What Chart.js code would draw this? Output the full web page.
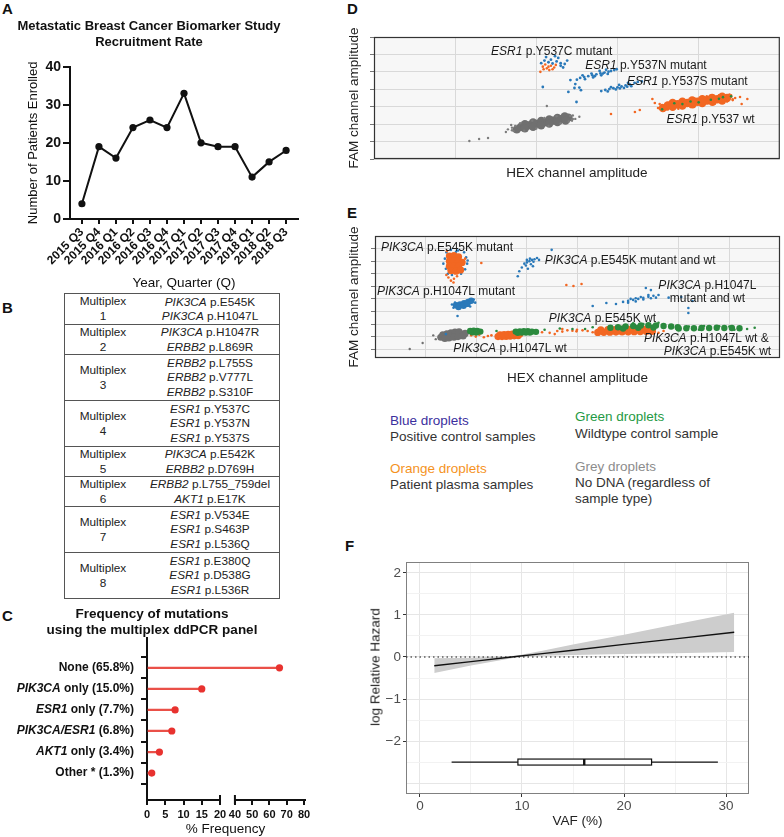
<!DOCTYPE html>
<html lang="en">
<head>
<meta charset="UTF-8" />
<title>Metastatic breast cancer biomarker study - ddPCR panel</title>
<script src="https://cdn.jsdelivr.net/npm/chart.js"></script>
<style>
  body { margin: 0; width: 784px; height: 837px; position: relative; overflow: hidden; background: #fff;
         font-family: 'Liberation Sans', Arial, sans-serif; color: #222; }
  canvas, .abs { position: absolute; }
  .letter { font-weight: bold; font-size: 15px; line-height: 15px; color: #111; }
  #tableB { left: 64px; top: 293px; width: 214px; border: 1px solid #555; font-size: 11.8px; color: #222; }
  .mrow { display: flex; align-items: center; border-top: 1px solid #555; box-sizing: border-box; }
  .mrow:first-child { border-top: none; }
  .mname { width: 76px; text-align: center; line-height: 15px; }
  .massays { flex: 1; text-align: center; line-height: 14.5px; white-space: nowrap; }
  .leg { font-size: 13.5px; line-height: 16px; white-space: nowrap; color: #333; }
  .rot { transform: translate(-50%, -50%) rotate(-90deg); white-space: nowrap; font-size: 13.5px; color: #222; }
</style>
</head>
<body>
  <div class="abs letter" style="left:2px;top:1px">A</div>
  <div class="abs letter" style="left:2px;top:300px">B</div>
  <div class="abs letter" style="left:2px;top:608px">C</div>
  <div class="abs letter" style="left:347px;top:1px">D</div>
  <div class="abs letter" style="left:347px;top:205px">E</div>
  <div class="abs letter" style="left:345px;top:538px">F</div>

  <canvas id="chartA" width="342" height="292" style="left:0;top:0"></canvas>
  <div id="tableB" class="abs"></div>
  <canvas id="chartC" width="346" height="237" style="left:0;top:600px"></canvas>
  <canvas id="chartD" width="444" height="190" style="left:340px;top:0"></canvas>
  <canvas id="chartE" width="444" height="200" style="left:340px;top:195px"></canvas>

  <div class="abs leg" style="left:390px;top:413px;color:#3b2f9e">Blue droplets</div>
  <div class="abs leg" style="left:390px;top:429px">Positive control samples</div>
  <div class="abs leg" style="left:390px;top:461px;color:#f5931e">Orange droplets</div>
  <div class="abs leg" style="left:390px;top:477px">Patient plasma samples</div>
  <div class="abs leg" style="left:575px;top:409px;color:#1f9a44">Green droplets</div>
  <div class="abs leg" style="left:575px;top:426px">Wildtype control sample</div>
  <div class="abs leg" style="left:575px;top:459px;color:#8c8c8c">Grey droplets</div>
  <div class="abs leg" style="left:575px;top:475px">No DNA (regardless of</div>
  <div class="abs leg" style="left:575px;top:491px">sample type)</div>

  <canvas id="chartF" width="444" height="307" style="left:340px;top:530px"></canvas>
  <div class="abs rot" style="left:375px;top:667px">log Relative Hazard</div>

<script>
// A: recruitment per quarter
const quarters = ['2015 Q3', '2015 Q4', '2016 Q1', '2016 Q2', '2016 Q3', '2016 Q4', '2017 Q1',
                  '2017 Q2', '2017 Q3', '2017 Q4', '2018 Q1', '2018 Q2', '2018 Q3'];
const enrolled = [4, 19, 16, 24, 26, 24, 33, 20, 19, 19, 11, 15, 18];

// B: assays in each multiplex
const multiplexAssays = [
  [['PIK3CA', 'p.E545K'], ['PIK3CA', 'p.H1047L']],
  [['PIK3CA', 'p.H1047R'], ['ERBB2', 'p.L869R']],
  [['ERBB2', 'p.L755S'], ['ERBB2', 'p.V777L'], ['ERBB2', 'p.S310F']],
  [['ESR1', 'p.Y537C'], ['ESR1', 'p.Y537N'], ['ESR1', 'p.Y537S']],
  [['PIK3CA', 'p.E542K'], ['ERBB2', 'p.D769H']],
  [['ERBB2', 'p.L755_759del'], ['AKT1', 'p.E17K']],
  [['ESR1', 'p.V534E'], ['ESR1', 'p.S463P'], ['ESR1', 'p.L536Q']],
  [['ESR1', 'p.E380Q'], ['ESR1', 'p.D538G'], ['ESR1', 'p.L536R']]
];

// C: mutation frequency
const mutCategories = ['None', 'PIK3CA only', 'ESR1 only', 'PIK3CA/ESR1', 'AKT1 only', 'Other *'];
const mutGenes = ['', 'PIK3CA', 'ESR1', 'PIK3CA/ESR1', 'AKT1', ''];
const mutFreq = [65.8, 15.0, 7.7, 6.8, 3.4, 1.3];
const freqTicks = [0, 5, 10, 15, 20, 40, 50, 60, 70, 80];
const axisBreak = [20, 40];

// D: ESR1 multiplex droplets (HEX, FAM)
const dGreyCore = [[1810,1840],[1905,1930],[2005,2015],[2100,2105],[2200,2200],[2300,2285],[2395,2375],
  [1857,1885],[1955,1972],[2052,2060],[2150,2152],[2250,2242],[2347,2330],
  [1860,2000],[1960,2090],[2060,2180],[2160,2270],[2260,2360],[2350,2440],
  [1760,1700],[1860,1760],[1960,1850],[2060,1940],[2160,2030],[2260,2120],[2360,2210]];
const dGreySpray = [[1175,1030],[1295,1150],[1405,1205],[1625,1550],[2130,3040],[1700,1800],[2480,2300],
  [2530,2420],[1720,1600],[2450,2500],[1690,1950],[2440,2200],
  [1700,1650],[1740,1900],[1800,2050],[1950,2200],[2100,2350],[2250,2450],[2420,2480],[2450,2300],
  [2400,2150],[2300,2050],[2150,1900],[2000,1750],[1850,1620],[1650,1700]];
const dOrangeCore = [[3620,3070],[3740,3140],[3860,3215],[3985,3285],[4105,3360],[4230,3430],[4350,3500],
  [3680,3105],[3800,3178],[3920,3250],[4045,3322],[4165,3395],[4290,3465],
  [3680,3220],[3800,3290],[3920,3365],[4045,3435],[4165,3510],[4290,3580],
  [3560,2920],[3680,2990],[3800,3065],[3925,3135],[4045,3210],[4170,3280],[4290,3350]];
const dOrangeSpray = [[3215,2700],[3275,2810],[2920,2580],[3460,3210],[4450,3500],[4510,3560],[3500,2930],
  [4530,3160],[4600,3440],[3430,3440],[2080,5300],[2130,5200],[2180,5350],[2220,5250],[2110,5420],
  [2160,5100],[2200,5150],[2240,5400],[2090,5150],[2150,5300],[2050,5000],[4400,3650],[3550,3050],
  [3520,3150],[4420,3380],[3600,2850],[4380,3700],
  [3520,2900],[3550,3100],[3650,3250],[3800,3380],[3950,3470],[4100,3600],[4250,3650],[4400,3560],
  [4420,3420],[4350,3300],[4200,3180],[4050,3080],[3900,2980],[3750,2880],[3620,2840]];
const dBlueY537C = [[2100,5650],[2180,5700],[2250,5600],[2300,5500],[2350,5450],[2150,5550],[2270,5800],
  [2060,5500],[2330,5250],[2380,5650],[2200,5480],[2300,5350],[2230,5900],[2120,5850],
  [2080,4130],[2395,3850],[2470,4075],[2495,3270],[2420,4530],[2480,4300],[2530,4100],[2550,3950]];
const dBlueY537N = [[2540,4650],[2590,4700],[2640,4750],[2690,4800],[2740,4860],[2790,4910],[2840,4960],
  [2890,5010],[2920,5050],[2600,4580],[2700,4680],[2800,4800],[2880,4880],[2570,4800],[2680,4900],
  [2780,5050],[2860,5120],[2960,5100],[2500,4550],[2990,5150],[2720,4750],[2820,4900]];
const dBlueY537S = [[2850,3960],[2900,4010],[2950,4060],[3000,4110],[3050,4160],[3100,4220],[3150,4280],
  [3210,4360],[2880,3880],[2980,3990],[3080,4080],[3170,4180],[2920,4120],[3020,4250],[3130,4370],
  [3250,4420],[2800,3900],[3300,4450],[3030,4050],[3120,4150]];
const dGreen = [[3900,3300],[4000,3250],[4150,3400],[4250,3450],[3700,3200],[4300,3550],[3550,2850],
  [4400,3600],[3800,3150]];

// E: PIK3CA multiplex droplets (HEX, FAM)
const eGreyCore = [[1300,1950],[1380,2000],[1460,2050],[1540,2100],[1620,2150],[1700,2200],[1780,2250],
  [1340,2150],[1420,2230],[1500,2300],[1580,2350],[1660,2380],[1380,1850],[1460,1900],[1560,1950],
  [1640,2000],[1740,2050]];
const eGreySpray = [[941,1490],[686,1016],[1200,1800],[1850,2300],[1150,2100]];
const eOrangeCore = [[1470,8400],[1560,8450],[1650,8350],[1470,8000],[1560,8000],[1650,8000],[1720,7900],
  [1470,7600],[1560,7600],[1650,7600],[1500,7250],[1600,7200],[1690,7300],
  [2430,2000],[2510,2000],[2590,2020],[2670,2040],[2750,2060],[2830,2080],[2470,2150],[2550,2170],
  [2630,2190],[2710,2210],[2790,2230],[2860,2200],
  [4400,2330],[4520,2340],[4640,2350],[4760,2360],[4880,2370],[5000,2380],[5120,2390],[5240,2400],
  [5360,2410],[5480,2420],[4460,2540],[4600,2550],[4740,2560],[4880,2570],[5020,2580],[5160,2590],
  [5300,2600],[5420,2580]];
const eOrangeSpray = [[1450,6700],[1500,6450],[1560,6600],[1620,6800],[1410,6900],[1550,6300],[2100,7850],
  [1420,8800],[1780,8200],[1900,2100],[1990,2000],[2060,2150],[2150,1950],[2230,2050],[2300,2100],
  [1950,2200],[3600,2450],[3700,2400],[3800,2500],[3900,2470],[3300,2350],[3450,2300],[3980,2420],
  [3550,2200],[3780,6100],[3920,6020],[4080,6180],[3990,2550],[4100,2500],[4200,2450],[4300,2350],
  [3700,2600],[5600,2300],[5700,2450]];
const eBlueCore = [[1600,4500],[1680,4550],[1760,4650],[1840,4750],[1900,4850],[1650,4350],[1750,4450],
  [1820,4600]];
const eBlueSpray = [[1410,8700],[1500,8900],[1640,8850],[1760,8700],[1800,8300],[1820,7800],[1780,7350],
  [1380,8200],[1400,7400],[1700,7000],[1520,6900],[1440,7000],[1830,8050],[1600,8750],[1350,7800],
  [2950,7800],[3000,7900],[3050,8000],[3100,8100],[3150,8150],[2980,7650],[3080,7750],[3130,7950],
  [3200,8250],[2900,7500],[3020,7400],[3060,8200],[2850,7200],[2820,6800],[3240,8100],[3490,8900],
  [3000,8100],[3120,7600],[1550,4300],[1950,4950],[1880,4400],[1580,4700],[1630,3640],[1980,4700],
  [1520,4550],[4900,4760],[5000,4840],[5100,4920],[5200,5000],[5300,5080],[5400,5160],[5500,5240],
  [5600,5310],[5000,4700],[5150,4800],[5300,4950],[5450,5050],[5050,5000],[5250,5150],[5400,5300],
  [5550,5100],[5150,5050],[4570,4670],[4760,4590],[5350,5870],[5450,5700],[6190,3880],[6190,4280],
  [6270,4830],[5800,5100],[6050,5150],[4300,4430],[1400,2200]];
const eGreenCore = [[1880,2450],[1950,2480],[2020,2450],[2080,2400],[1920,2350],[2000,2330],
  [2780,2400],[2860,2420],[2940,2440],[3020,2430],[3100,2400],[3180,2380],[2820,2300],[2900,2320],
  [2980,2330],[3060,2320],[4650,2700],[4800,2750],[4950,2800],[5100,2850],[5250,2880],[5400,2900],
  [5550,2880],[5700,2850],[5850,2800],[5980,2750],[4900,2650],[5200,2700],[5500,2720],
  [6000,2650],[6150,2660],[6300,2670],[6450,2680],[6600,2690],[6750,2700],[6900,2690],[7050,2680],
  [7200,2670]];
const eGreenSpray = [[2100,2500],[5300,3000],[5100,3050],[5600,3100],[6200,2800],[6500,2850],[6800,2820],
  [7100,2550],[7350,2600],[7500,2700],[6600,2550],[3350,2550],[3650,2650],[3900,2600],[4150,2600],
  [4300,2750],[2400,2450],[6400,2550],[7000,2800]];

// F: log relative hazard vs VAF
const vaf = [1.4, 5, 9.4, 12, 15, 20, 25, 30.8];
const logHazard = [-0.21, -0.11, 0.01, 0.08, 0.16, 0.30, 0.43, 0.59];
const hazardUpper = [-0.03, -0.02, 0.03, 0.15, 0.30, 0.53, 0.77, 1.05];
const hazardLower = [-0.38, -0.20, -0.01, 0.03, 0.05, 0.07, 0.09, 0.12];
const vafBox = [3.1, 9.6, 16.1, 22.7, 29.2];   // min, q1, median, q3, max
const boxRow = -2.5;

// cluster annotations (data coordinates)
const dNotes = [
  { gene: 'ESR1', text: ' p.Y537C mutant', x: 1442, y: 6142 },
  { gene: 'ESR1', text: ' p.Y537N mutant', x: 2603, y: 5338 },
  { gene: 'ESR1', text: ' p.Y537S mutant', x: 3116, y: 4420 },
  { gene: 'ESR1', text: ' p.Y537 wt', x: 3605, y: 2239 }
];
const eNotes = [
  { gene: 'PIK3CA', text: ' p.E545K mutant', x: 118, y: 9045 },
  { gene: 'PIK3CA', text: ' p.E545K mutant and wt', x: 3352, y: 8012 },
  { gene: 'PIK3CA', text: ' p.H1047L', x: 6566, y: 6024, center: true },
  { gene: '', text: 'mutant and wt', x: 6566, y: 4991, center: true },
  { gene: 'PIK3CA', text: ' p.H1047L mutant', x: 39, y: 5547 },
  { gene: 'PIK3CA', text: ' p.E545K wt', x: 3430, y: 3400 },
  { gene: 'PIK3CA', text: ' p.H1047L wt &', x: 5312, y: 1811 },
  { gene: 'PIK3CA', text: ' p.E545K wt', x: 5704, y: 777 },
  { gene: 'PIK3CA', text: ' p.H1047L wt', x: 1548, y: 1016 }
];

const FONT = "'Liberation Sans', Arial, sans-serif";
const ORANGE = '#f26722', BLUE = '#2a79b9', GREEN = '#2b8a3e', GREY = '#707070';

Chart.defaults.animation = false;
Chart.defaults.font.family = FONT;
Chart.defaults.color = '#222';
Chart.defaults.plugins.legend.display = false;
Chart.defaults.plugins.tooltip.enabled = false;

const toXY = pts => pts.map(p => ({ x: p[0], y: p[1] }));
const fixedTicks = vals => s => { s.ticks = vals.map(v => ({ value: v })); };

// ---- table B
const tableB = document.getElementById('tableB');
multiplexAssays.forEach((assays, i) => {
  const row = document.createElement('div');
  row.className = 'mrow';
  row.style.height = (assays.length === 2 ? 30 : 46) + 'px';
  row.innerHTML = `<div class="mname">Multiplex<br>${i + 1}</div><div class="massays">` +
    assays.map(a => `<i>${a[0]}</i> ${a[1]}`).join('<br>') + '</div>';
  tableB.appendChild(row);
});

// ---- shared plugins
const panelFrame = {
  id: 'panelFrame',
  beforeDraw(chart, args, o) {
    if (!o.fill) return;
    const { ctx, chartArea: a } = chart;
    ctx.save();
    ctx.fillStyle = o.fill;
    ctx.fillRect(a.left, a.top, a.width, a.height);
    ctx.restore();
  },
  afterDatasetsDraw(chart, args, o) {
    if (!o.stroke) return;
    const { ctx, chartArea: a } = chart;
    ctx.save();
    ctx.strokeStyle = o.stroke;
    ctx.lineWidth = o.width || 1;
    ctx.strokeRect(a.left + 0.5, a.top + 0.5, a.width - 1, a.height - 1);
    ctx.restore();
  }
};

const geneNotes = {
  id: 'geneNotes',
  afterDatasetsDraw(chart, args, o) {
    const { ctx, scales: { x, y } } = chart;
    const italic = `italic 12px ${FONT}`, roman = `12px ${FONT}`;
    ctx.save();
    ctx.fillStyle = '#1a1a1a';
    ctx.textBaseline = 'middle';
    ctx.textAlign = 'left';
    (o.items || []).forEach(n => {
      ctx.font = italic;
      const wg = n.gene ? ctx.measureText(n.gene).width : 0;
      ctx.font = roman;
      const wt = ctx.measureText(n.text).width;
      let px = x.getPixelForValue(n.x);
      const py = y.getPixelForValue(n.y);
      if (n.center) px -= (wg + wt) / 2;
      if (n.gene) { ctx.font = italic; ctx.fillText(n.gene, px, py); }
      ctx.font = roman;
      ctx.fillText(n.text, px + wg, py);
    });
    ctx.restore();
  }
};

// ---- A
new Chart(document.getElementById('chartA'), {
  type: 'line',
  data: {
    datasets: [{
      data: enrolled.map((v, i) => ({ x: i, y: v })),
      borderColor: '#111', backgroundColor: '#111', borderWidth: 2,
      pointRadius: 3.6, pointBorderWidth: 0, tension: 0
    }]
  },
  options: {
    responsive: false,
    layout: { padding: { right: 44 } },
    plugins: {
      title: {
        display: true, text: ['Metastatic Breast Cancer Biomarker Study', 'Recruitment Rate'],
        font: { size: 13, weight: 'bold' }, color: '#111', padding: { top: 19, bottom: 16.5 }
      }
    },
    scales: {
      x: {
        type: 'linear', min: -0.7, max: 12.7,
        afterBuildTicks: fixedTicks(quarters.map((q, i) => i)),
        afterFit: s => { s.height = 73; },
        ticks: { callback: v => quarters[v], autoSkip: false, minRotation: 45, maxRotation: 45,
                 font: { size: 12, weight: 'bold' }, color: '#111', padding: 1 },
        grid: { drawOnChartArea: false, color: '#111', lineWidth: 2, tickLength: 5 },
        border: { color: '#111', width: 2 },
        title: { display: true, text: 'Year, Quarter (Q)', font: { size: 13.5 }, color: '#111',
                 padding: { top: 0, bottom: 1 } }
      },
      y: {
        min: 0, max: 40,
        afterFit: s => { s.width = 70; },
        ticks: { stepSize: 10, font: { size: 14, weight: 'bold' }, color: '#111', padding: 2 },
        grid: { drawOnChartArea: false, color: '#111', lineWidth: 2, tickLength: 7 },
        border: { color: '#111', width: 2 },
        title: { display: true, text: 'Number of Patients Enrolled', font: { size: 13 }, color: '#111',
                 padding: { top: 26, bottom: 0 } }
      }
    }
  }
});

// ---- C: lollipop on a broken x axis
class BrokenLinearScale extends Chart.LinearScale {
  getPixelForValue(v) {
    const [lo, hi] = axisBreak;
    const gapStart = 0.465, gapEnd = 0.56;
    let f;
    if (v <= lo) f = (v - this.min) / (lo - this.min) * gapStart;
    else if (v < hi) f = gapStart + (v - lo) / (hi - lo) * (gapEnd - gapStart);
    else f = gapEnd + (v - hi) / (this.max - hi) * (1 - gapEnd);
    return this.left + f * this.width;
  }
}
BrokenLinearScale.id = 'brokenLinear';
BrokenLinearScale.defaults = Chart.LinearScale.defaults;
Chart.register(BrokenLinearScale);

const lollipopAxis = {
  id: 'lollipopAxis',
  afterDraw(chart) {
    const { ctx, scales: { x, y }, chartArea: a } = chart;
    ctx.save();
    ctx.strokeStyle = '#111';
    ctx.lineWidth = 2;
    ctx.beginPath();
    ctx.moveTo(x.getPixelForValue(0) - 1, a.bottom);
    ctx.lineTo(x.getPixelForValue(axisBreak[0]), a.bottom);
    ctx.moveTo(x.getPixelForValue(axisBreak[1]), a.bottom);
    ctx.lineTo(x.getPixelForValue(80) + 2, a.bottom);
    axisBreak.forEach(v => {
      const px = x.getPixelForValue(v);
      ctx.moveTo(px, a.bottom - 5);
      ctx.lineTo(px, a.bottom + 4);
    });
    ctx.stroke();

    const bold = `bold 12px ${FONT}`, boldItalic = `italic bold 12px ${FONT}`;
    const right = a.left - 13;
    ctx.fillStyle = '#111';
    ctx.textBaseline = 'middle';
    ctx.textAlign = 'left';
    mutCategories.forEach((c, i) => {
      const full = `${c} (${mutFreq[i].toFixed(1)}%)`;
      const gene = mutGenes[i];
      const rest = full.slice(gene.length);
      ctx.font = boldItalic;
      const wg = gene ? ctx.measureText(gene).width : 0;
      ctx.font = bold;
      const wr = ctx.measureText(rest).width;
      const py = y.getPixelForValue(i);
      if (gene) { ctx.font = boldItalic; ctx.fillText(gene, right - wr - wg, py); }
      ctx.font = bold;
      ctx.fillText(rest, right - wr, py);
    });
    ctx.restore();
  }
};

const mutPoints = mutFreq.map((v, i) => ({ x: v, y: i }));
new Chart(document.getElementById('chartC'), {
  type: 'bar',
  data: {
    datasets: [
      { type: 'scatter', data: mutPoints, pointRadius: 3.6, backgroundColor: '#e8322f', borderWidth: 0 },
      { data: mutPoints, backgroundColor: '#ea5048', barThickness: 1.6 }
    ]
  },
  options: {
    indexAxis: 'y',
    responsive: false,
    layout: { padding: { right: 42 } },
    plugins: {
      title: {
        display: true, text: ['Frequency of mutations', 'using the multiplex ddPCR panel'],
        font: { size: 13.5, weight: 'bold' }, color: '#111', padding: { top: 6, bottom: 0 }
      }
    },
    scales: {
      x: {
        type: 'brokenLinear', min: 0, max: 80,
        afterBuildTicks: fixedTicks(freqTicks),
        afterFit: s => { s.height = 37; },
        ticks: { callback: v => String(v), autoSkip: false, maxRotation: 0,
                 font: { size: 11, weight: 'bold' }, color: '#111', padding: 3 },
        grid: { drawOnChartArea: false, color: '#111', lineWidth: 2, tickLength: 5 },
        border: { display: false },
        title: { display: true, text: '% Frequency', font: { size: 13.5 }, color: '#111',
                 padding: { top: 0, bottom: 0 } }
      },
      y: {
        type: 'linear', reverse: true, min: -0.76, max: 5.64,
        afterBuildTicks: fixedTicks(mutCategories.map((c, i) => i)),
        afterFit: s => { s.width = 147; },
        ticks: { display: false },
        grid: { drawOnChartArea: false, color: '#111', lineWidth: 2, tickLength: 6 },
        border: { color: '#111', width: 2 }
      }
    }
  },
  plugins: [lollipopAxis]
});

// ---- D and E: droplet plots
function dropletChart(id, sets, opt) {
  new Chart(document.getElementById(id), {
    type: 'scatter',
    data: {
      datasets: sets.map(s => ({
        data: toXY(s.pts), backgroundColor: s.color, pointRadius: s.r, pointBorderWidth: 0
      }))
    },
    options: {
      responsive: false,
      layout: { padding: { top: opt.top, right: 1 } },
      plugins: { panelFrame: { fill: '#f7f7f7', stroke: '#333', width: 1.2 }, geneNotes: { items: opt.notes } },
      scales: {
        x: {
          min: opt.x[0], max: opt.x[1],
          afterBuildTicks: fixedTicks(opt.gridX),
          afterFit: s => { s.height = opt.xh; },
          ticks: { display: false },
          grid: { color: '#d9d9d9', drawTicks: false },
          border: { display: false },
          title: { display: true, text: 'HEX channel amplitude', font: { size: 13.5 }, color: '#222',
                   padding: { top: 0, bottom: 8.6 } }
        },
        y: {
          min: opt.y[0], max: opt.y[1],
          afterBuildTicks: fixedTicks(opt.gridY),
          afterFit: s => { s.width = opt.yw; },
          ticks: { display: false },
          grid: { color: '#d9d9d9', tickColor: '#777', tickLength: 4 },
          border: { display: false },
          title: { display: true, text: 'FAM channel amplitude', font: { size: 13.5 }, color: '#222',
                   padding: { top: 6.6, bottom: 0 } }
        }
      }
    },
    plugins: [panelFrame, geneNotes]
  });
}

dropletChart('chartD', [
  { pts: dGreen, color: GREEN, r: 1.3 },
  { pts: dOrangeSpray, color: ORANGE, r: 1.3 },
  { pts: dOrangeCore, color: ORANGE, r: 4.2 },
  { pts: dBlueY537C, color: BLUE, r: 1.4 },
  { pts: dBlueY537N, color: BLUE, r: 1.4 },
  { pts: dBlueY537S, color: BLUE, r: 1.4 },
  { pts: dGreySpray, color: '#7c7c7c', r: 1.2 },
  { pts: dGreyCore, color: GREY, r: 4.2 }
], { top: 37, yw: 34, xh: 31, x: [0, 5000], y: [0, 7000],
     gridX: [1000, 2000, 3000, 4000], gridY: [0, 1000, 2000, 3000, 4000, 5000, 6000, 7000], notes: dNotes });

dropletChart('chartE', [
  { pts: eGreenSpray, color: GREEN, r: 1.3 },
  { pts: eGreenCore, color: GREEN, r: 3.2 },
  { pts: eOrangeSpray, color: ORANGE, r: 1.3 },
  { pts: eOrangeCore, color: ORANGE, r: 3.6 },
  { pts: eBlueSpray, color: BLUE, r: 1.3 },
  { pts: eBlueCore, color: BLUE, r: 3.2 },
  { pts: eGreySpray, color: GREY, r: 1.2 },
  { pts: eGreyCore, color: GREY, r: 3.6 }
], { top: 41, yw: 35, xh: 37, x: [0, 8000], y: [300, 10000],
     gridX: [1000, 2000, 3000, 4000, 5000, 6000, 7000],
     gridY: [1000, 2000, 3000, 4000, 5000, 6000, 7000, 8000, 9000], notes: eNotes });

// ---- F: spline hazard with box plot of VAF
const coxExtras = {
  id: 'coxExtras',
  afterDatasetsDraw(chart) {
    const { ctx, scales: { x, y }, chartArea: a } = chart;
    ctx.save();
    const y0 = y.getPixelForValue(0);
    ctx.strokeStyle = '#111';
    ctx.lineWidth = 1.2;
    ctx.setLineDash([1.5, 3]);
    ctx.beginPath();
    ctx.moveTo(a.left, y0);
    ctx.lineTo(a.right, y0);
    ctx.stroke();
    ctx.setLineDash([]);

    const [mn, q1, md, q3, mx] = vafBox.map(v => x.getPixelForValue(v));
    const yc = y.getPixelForValue(boxRow), h = 6;
    ctx.lineWidth = 1.2;
    ctx.beginPath();
    ctx.moveTo(mn, yc); ctx.lineTo(q1, yc);
    ctx.moveTo(q3, yc); ctx.lineTo(mx, yc);
    ctx.stroke();
    ctx.fillStyle = '#fff';
    ctx.fillRect(q1, yc - h / 2, q3 - q1, h);
    ctx.strokeRect(q1, yc - h / 2, q3 - q1, h);
    ctx.lineWidth = 2.4;
    ctx.beginPath();
    ctx.moveTo(md, yc - h / 2); ctx.lineTo(md, yc + h / 2);
    ctx.stroke();
    ctx.restore();
  }
};

const isMajorX = c => c.tick && c.tick.value % 10 === 0;
const isMajorY = c => c.tick && Number.isInteger(c.tick.value);
const labelY = c => c.tick && Number.isInteger(c.tick.value) && c.tick.value >= -2;

new Chart(document.getElementById('chartF'), {
  type: 'line',
  data: {
    datasets: [
      { data: vaf.map((v, i) => ({ x: v, y: logHazard[i] })), borderColor: '#111', borderWidth: 1.4, pointRadius: 0 },
      { data: vaf.map((v, i) => ({ x: v, y: hazardLower[i] })), borderWidth: 0, pointRadius: 0, fill: false },
      { data: vaf.map((v, i) => ({ x: v, y: hazardUpper[i] })), borderWidth: 0, pointRadius: 0,
        fill: 1, backgroundColor: '#cdcdcd' }
    ]
  },
  options: {
    responsive: false,
    layout: { padding: { top: 32, right: 35 } },
    plugins: { panelFrame: { stroke: '#808080', width: 1 } },
    scales: {
      x: {
        type: 'linear', min: -1.37, max: 32.25,
        afterBuildTicks: fixedTicks([0, 5, 10, 15, 20, 25, 30]),
        afterFit: s => { s.height = 43; },
        ticks: { callback: v => (v % 10 === 0 ? String(v) : ''), autoSkip: false, maxRotation: 0,
                 font: { size: 13.5 }, color: '#4d4d4d', padding: 1 },
        grid: { color: c => (isMajorX(c) ? '#e6e6e6' : '#f2f2f2'),
                tickColor: c => (isMajorX(c) ? '#333' : 'rgba(0,0,0,0)'), tickLength: 3 },
        border: { display: false },
        title: { display: true, text: 'VAF (%)', font: { size: 13.5 }, color: '#222',
                 padding: { top: 0, bottom: 7.6 } }
      },
      y: {
        min: -3.26, max: 2.26,
        afterBuildTicks: fixedTicks([-3, -2.5, -2, -1.5, -1, -0.5, 0, 0.5, 1, 1.5, 2]),
        afterFit: s => { s.width = 66; },
        ticks: { callback: v => (Number.isInteger(v) && v >= -2 ? (v < 0 ? '\u2212' + Math.abs(v) : String(v)) : ''),
                 autoSkip: false, font: { size: 13.5 }, color: '#4d4d4d', padding: 2 },
        grid: { color: c => (isMajorY(c) ? '#e6e6e6' : '#f2f2f2'),
                tickColor: c => (labelY(c) ? '#333' : 'rgba(0,0,0,0)'), tickLength: 3 },
        border: { display: false }
      }
    }
  },
  plugins: [panelFrame, coxExtras]
});
</script>
</body>
</html>
